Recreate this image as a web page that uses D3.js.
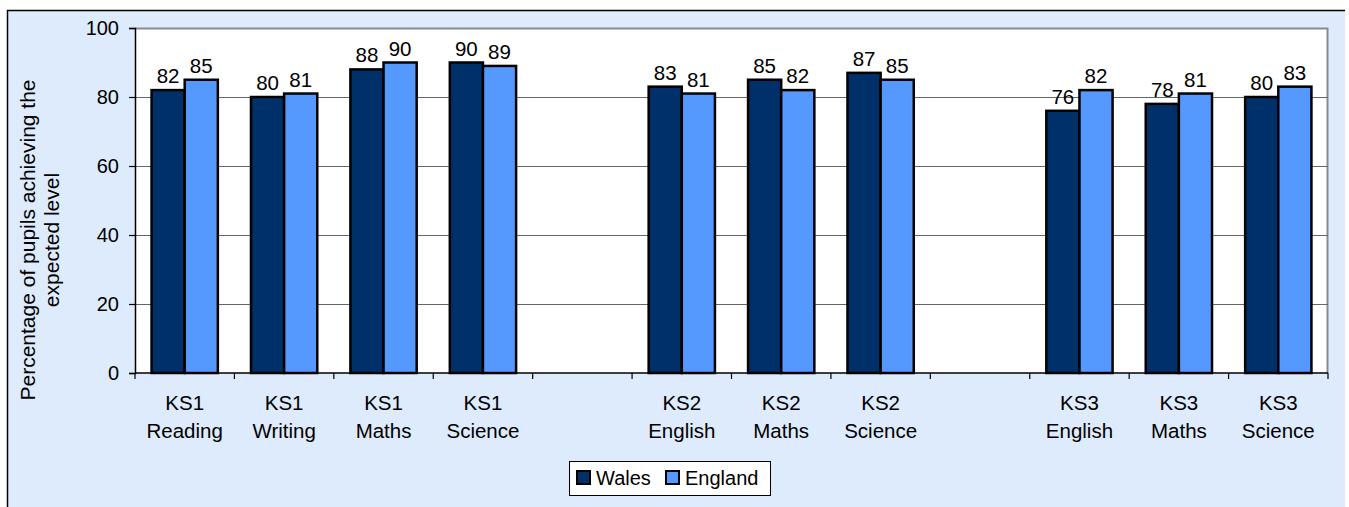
<!DOCTYPE html>
<html>
<head>
<meta charset="utf-8">
<script src="https://cdn.jsdelivr.net/npm/d3@7"></script>
<style>
  body { margin: 0; background: #fff; }
  text { font-family: "Liberation Sans", Arial, sans-serif; fill: #000; }
</style>
</head>
<body>
<div id="chart"></div>
<script>
// chart data
var categories = [
    ["KS1", "Reading"], ["KS1", "Writing"], ["KS1", "Maths"], ["KS1", "Science"],
    ["", ""],
    ["KS2", "English"], ["KS2", "Maths"], ["KS2", "Science"],
    ["", ""],
    ["KS3", "English"], ["KS3", "Maths"], ["KS3", "Science"]
];
var seriesNames = ["Wales", "England"];
var walesValues = [82, 80, 88, 90, null, 83, 85, 87, null, 76, 78, 80];
var englandValues = [85, 81, 90, 89, null, 81, 82, 85, null, 82, 81, 83];
var yTicks = [0, 20, 40, 60, 80, 100];
var yTitle = ["Percentage of pupils achieving the", "expected level"];

var colors = { "Wales": "#003069", "England": "#5599FF" };

var svgWidth = 1349;
var svgHeight = 507;

var plot = { left: 135, top: 28, right: 1328, bottom: 373 };

var svg = d3.select("#chart")
    .append("svg")
    .attr("width", svgWidth)
    .attr("height", svgHeight);

// outer frame
svg.append("rect")
    .attr("x", 7).attr("y", 10)
    .attr("width", 1338).attr("height", 500)
    .attr("fill", "#DDEBFD");
svg.append("path")
    .attr("d", "M7.5,510V10.5H1345")
    .attr("fill", "none")
    .attr("stroke", "#000")
    .attr("stroke-width", 1.5);

// plot area
svg.append("rect")
    .attr("x", plot.left).attr("y", plot.top)
    .attr("width", plot.right - plot.left).attr("height", plot.bottom - plot.top)
    .attr("fill", "#fff");
svg.append("path")
    .attr("d", `M${plot.left},${plot.top + 0.5}H${plot.right - 0.5}V${plot.bottom}`)
    .attr("fill", "none")
    .attr("stroke", "#8a8a8a")
    .attr("stroke-width", 2);

var data = categories.map(function (c, i) {
    return { idx: i, label: c, Wales: walesValues[i], England: englandValues[i] };
});

var x0 = d3.scaleBand()
    .domain(d3.range(categories.length))
    .range([plot.left, plot.right])
    .paddingInner(0).paddingOuter(0);

var x1 = d3.scaleBand()
    .domain(seriesNames)
    .range([0, x0.bandwidth()])
    .paddingInner(0).paddingOuter(0.5);

var y = d3.scaleLinear()
    .domain([0, 100])
    .range([plot.bottom, plot.top]);

// gridlines
svg.append("g")
    .selectAll("line")
    .data(yTicks.filter(function (t) { return t > 0 && t < 100; }))
    .enter()
    .append("line")
    .attr("x1", plot.left).attr("x2", plot.right)
    .attr("y1", function (d) { return Math.round(y(d)) + 0.5; })
    .attr("y2", function (d) { return Math.round(y(d)) + 0.5; })
    .attr("stroke", "#666")
    .attr("stroke-width", 1);

// bars
var groups = svg.append("g")
    .selectAll("g")
    .data(data)
    .enter()
    .append("g")
    .attr("transform", function (d) { return `translate(${x0(d.idx)},0)`; });

var bars = groups.selectAll("rect")
    .data(function (d) {
        return seriesNames
            .filter(function (s) { return d[s] !== null; })
            .map(function (s) { return { key: s, value: d[s] }; });
    })
    .enter();

bars.append("rect")
    .attr("x", function (d) { return x1(d.key); })
    .attr("y", function (d) { return y(d.value); })
    .attr("width", x1.bandwidth())
    .attr("height", function (d) { return y(0) - y(d.value); })
    .attr("fill", function (d) { return colors[d.key]; })
    .attr("stroke", "#000")
    .attr("stroke-width", 2.5);

bars.append("text")
    .attr("x", function (d) { return x1(d.key) + x1.bandwidth() / 2; })
    .attr("y", function (d) { return y(d.value) - 7; })
    .attr("text-anchor", "middle")
    .style("font-size", "20.5px")
    .text(function (d) { return d.value; });

// y axis
var leftAxis = d3.axisLeft(y)
    .tickValues(yTicks)
    .tickSize(6)
    .tickPadding(10);

var yAxisG = svg.append("g")
    .attr("transform", `translate(${plot.left},0)`)
    .call(leftAxis);
yAxisG.select(".domain").attr("stroke", "#000").attr("stroke-width", 1.5);
yAxisG.selectAll(".tick line").attr("stroke", "#000").attr("stroke-width", 1.2);
yAxisG.selectAll(".tick text")
    .style("font-size", "20px")
    .style("font-family", "Liberation Sans, Arial, sans-serif")
    .attr("fill", "#000");

// x axis: ticks on category boundaries
var xAxisG = svg.append("g");
xAxisG.append("line")
    .attr("x1", plot.left).attr("x2", plot.right)
    .attr("y1", plot.bottom).attr("y2", plot.bottom)
    .attr("stroke", "#000").attr("stroke-width", 1.5);
xAxisG.selectAll("line.tick")
    .data(d3.range(categories.length + 1))
    .enter()
    .append("line")
    .attr("class", "tick")
    .attr("x1", function (i) { return i < categories.length ? x0(i) : plot.right; })
    .attr("x2", function (i) { return i < categories.length ? x0(i) : plot.right; })
    .attr("y1", plot.bottom).attr("y2", plot.bottom + 6)
    .attr("stroke", "#000").attr("stroke-width", 1.2);

var xLabels = xAxisG.selectAll("text")
    .data(data)
    .enter()
    .append("text")
    .attr("text-anchor", "middle")
    .style("font-size", "20.5px");
xLabels.append("tspan")
    .attr("x", function (d) { return x0(d.idx) + x0.bandwidth() / 2; })
    .attr("y", 410)
    .text(function (d) { return d.label[0]; });
xLabels.append("tspan")
    .attr("x", function (d) { return x0(d.idx) + x0.bandwidth() / 2; })
    .attr("y", 438)
    .text(function (d) { return d.label[1]; });

// y axis title
var yTitleG = svg.append("text")
    .attr("transform", "translate(0,240) rotate(-90)")
    .attr("text-anchor", "middle")
    .style("font-size", "21px");
yTitleG.selectAll("tspan")
    .data(yTitle)
    .enter()
    .append("tspan")
    .attr("x", 0)
    .attr("y", function (d, i) { return 35 + i * 24; })
    .text(function (d) { return d; });

// legend
var legend = svg.append("g").attr("transform", "translate(569,461)");
legend.append("rect")
    .attr("x", 0.5).attr("y", 0.5)
    .attr("width", 201).attr("height", 34)
    .attr("fill", "#fff")
    .attr("stroke", "#000")
    .attr("stroke-width", 1);
var legendX = [8, 97];
var items = legend.selectAll("g.item")
    .data(seriesNames)
    .enter()
    .append("g")
    .attr("class", "item")
    .attr("transform", function (d, i) { return `translate(${legendX[i]},0)`; });
items.append("rect")
    .attr("x", 0).attr("y", 10)
    .attr("width", 13).attr("height", 13)
    .attr("fill", function (d) { return colors[d]; })
    .attr("stroke", "#000")
    .attr("stroke-width", 2);
items.append("text")
    .attr("x", 19).attr("y", 24)
    .style("font-size", "20px")
    .text(function (d) { return d; });
</script>
</body>
</html>
